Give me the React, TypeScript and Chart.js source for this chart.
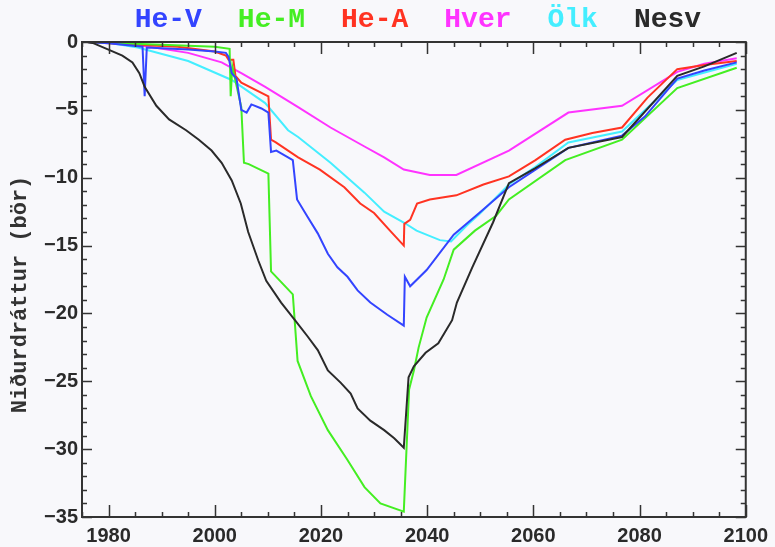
import { useEffect, useRef } from "react";
import { Chart, registerables } from "chart.js";

Chart.register(...registerables);

const seriesLabels = ["He-V", "He-M", "He-A", "Hver", "Ölk", "Nesv"];
const seriesColors = ["#3344ff", "#44ee22", "#ff3322", "#ff33ff", "#44eeff", "#2a2a2a"];

const heVYears = [1976, 1980, 1986.4, 1986.8, 1987.2, 1995, 2000, 2002.1, 2002.6, 2003.2, 2004.1, 2005.0, 2006.0, 2006.9, 2008.8, 2010.1, 2010.6, 2011.6, 2012.5, 2014.7, 2015.5, 2017.5, 2019.4, 2021.3, 2023.1, 2025.0, 2026.9, 2029.3, 2032.5, 2035.6, 2035.8, 2036.8, 2039.9, 2045.0, 2049.8, 2055.4, 2060.4, 2066.6, 2071.1, 2076.7, 2081.0, 2087.1, 2092.2, 2098.3];
const heVValues = [0, -0.1, -0.35, -4.0, -0.4, -0.55, -0.7, -0.8, -1.1, -2.3, -2.7, -5.0, -5.2, -4.6, -4.9, -5.2, -8.1, -8.0, -8.2, -8.7, -11.6, -12.9, -14.1, -15.6, -16.6, -17.3, -18.3, -19.2, -20.1, -20.9, -17.3, -18.0, -16.8, -14.2, -12.6, -10.7, -9.4, -7.8, -7.4, -6.9, -5.5, -2.7, -2.1, -1.5];

const heMYears = [1976, 1990, 2000, 2002.8, 2003.0, 2003.3, 2005.0, 2005.5, 2006.4, 2010.1, 2010.6, 2014.7, 2015.6, 2018.1, 2021.3, 2025.0, 2028.2, 2031.2, 2035.6, 2036.6, 2037.5, 2038.4, 2039.9, 2043.1, 2045.0, 2049.0, 2053.0, 2055.4, 2066.0, 2076.7, 2087.1, 2098.3];
const heMValues = [0, -0.2, -0.35, -0.5, -4.0, -1.8, -4.8, -8.9, -9.0, -9.7, -16.9, -18.6, -23.5, -26.1, -28.6, -30.8, -32.8, -34.0, -34.6, -25.6, -24.2, -22.5, -20.3, -17.5, -15.3, -13.9, -12.8, -11.6, -8.7, -7.2, -3.4, -1.9];

const heAYears = [1976, 1985, 1993, 2000, 2002.1, 2002.6, 2003.5, 2003.9, 2005.0, 2010.1, 2010.6, 2011.5, 2015.7, 2019.8, 2024.4, 2027.4, 2030.0, 2033.0, 2035.6, 2035.7, 2036.8, 2038.1, 2040.5, 2045.5, 2050.6, 2055.4, 2060.4, 2066.0, 2071.1, 2076.7, 2081.5, 2087.1, 2092.2, 2098.3];
const heAValues = [0, -0.2, -0.35, -0.7, -1.0, -1.3, -1.3, -2.5, -3.0, -4.0, -7.2, -7.4, -8.5, -9.4, -10.7, -11.9, -12.6, -13.9, -15.0, -13.4, -13.1, -11.9, -11.6, -11.3, -10.5, -9.9, -8.7, -7.2, -6.7, -6.3, -4.1, -2.0, -1.7, -1.4];

const hverYears = [1976, 1982, 1987.7, 1995.0, 2001.3, 2005.0, 2009.5, 2015.7, 2021.8, 2028.2, 2031.9, 2035.6, 2040.5, 2045.5, 2055.4, 2066.6, 2076.7, 2087.1, 2092.2, 2098.3];
const hverValues = [0, -0.1, -0.35, -0.8, -1.5, -2.3, -3.3, -4.8, -6.3, -7.7, -8.5, -9.4, -9.8, -9.8, -8.0, -5.2, -4.7, -2.2, -1.6, -1.2];

const olkYears = [1976, 1980, 1985.5, 1995, 2003.2, 2009.5, 2013.8, 2015.7, 2021.8, 2028.2, 2031.9, 2035.6, 2038.0, 2042.4, 2044.5, 2047.5, 2049.8, 2055.4, 2060.4, 2066.6, 2076.7, 2087.1, 2098.3];
const olkValues = [0, -0.05, -0.4, -1.4, -2.8, -4.5, -6.5, -7.0, -8.9, -11.1, -12.5, -13.3, -13.9, -14.6, -14.7, -13.5, -12.7, -10.5, -9.2, -7.4, -6.6, -2.8, -1.6];

const nesvYears = [1976, 1977.0, 1980.2, 1982.6, 1984.5, 1985.8, 1986.8, 1989.0, 1991.4, 1994.6, 1997.0, 1999.4, 2001.3, 2003.2, 2004.9, 2006.3, 2008.2, 2009.7, 2012.5, 2015.1, 2017.5, 2019.4, 2021.3, 2023.7, 2025.6, 2026.9, 2029.3, 2031.9, 2033.8, 2035.6, 2036.5, 2037.5, 2039.7, 2042.1, 2044.7, 2045.6, 2048.5, 2052.4, 2055.4, 2060.4, 2066.6, 2076.7, 2087.1, 2092.2, 2098.3];
const nesvValues = [0, -0.07, -0.6, -1.0, -1.5, -2.3, -3.3, -4.7, -5.7, -6.5, -7.2, -8.0, -8.9, -10.2, -11.9, -14.0, -16.1, -17.6, -19.2, -20.5, -21.7, -22.7, -24.2, -25.1, -25.9, -27.0, -27.9, -28.6, -29.2, -29.9, -24.7, -23.9, -22.9, -22.2, -20.5, -19.2, -16.6, -13.3, -10.4, -9.3, -7.8, -7.0, -2.5, -1.8, -0.8];

const seriesYears = [heVYears, heMYears, heAYears, hverYears, olkYears, nesvYears];
const seriesValues = [heVValues, heMValues, heAValues, hverValues, olkValues, nesvValues];

const xTickValues = [1980, 2000, 2020, 2040, 2060, 2080, 2100];
const yTickValues = [0, -5, -10, -15, -20, -25, -30, -35];
const yTitle = "Niðurdráttur (bör)";

const monoFamily = "'Liberation Mono', 'Courier New', Courier, monospace";
const tickFamily = "'Liberation Sans', Arial, sans-serif";

const tickFont = {
  family: tickFamily,
  size: 20,
  weight: "bold" as const,
};

const bgPlugin = {
  id: "bg",
  beforeDraw(chart: any) {
    const ctx = chart.ctx;
    ctx.save();
    ctx.fillStyle = "#f8f8fb";
    ctx.fillRect(0, 0, chart.width, chart.height);
    ctx.restore();
  },
};

const framePlugin = {
  id: "frame",
  afterDatasetsDraw(chart: any) {
    const { ctx, chartArea } = chart;
    const { left, right, top, bottom } = chartArea;
    const xs = chart.scales.x;
    const ys = chart.scales.y;
    ctx.save();
    ctx.strokeStyle = "#333";
    ctx.lineWidth = 1.5;
    ctx.beginPath();
    for (let yr = 1975; yr <= 2100; yr += 5) {
      const px = Math.round(xs.getPixelForValue(yr)) + 0.5;
      const len = yr % 20 === 0 ? 12 : 5;
      ctx.moveTo(px, bottom);
      ctx.lineTo(px, bottom - len);
      ctx.moveTo(px, top);
      ctx.lineTo(px, top + len);
    }
    for (let v = 0; v >= -35; v -= 1) {
      const py = Math.round(ys.getPixelForValue(v)) + 0.5;
      const len = v % 5 === 0 ? 10 : 5;
      ctx.moveTo(left, py);
      ctx.lineTo(left + len, py);
      ctx.moveTo(right, py);
      ctx.lineTo(right - len, py);
    }
    ctx.stroke();
    ctx.lineWidth = 2;
    ctx.strokeRect(left, top, right - left, bottom - top);
    ctx.restore();
  },
};

const textPlugin = {
  id: "texts",
  afterDraw(chart: any) {
    const { ctx, chartArea } = chart;
    const sets = chart.data.datasets;
    ctx.save();
    // legend: coloured series names above the plot
    ctx.font = "bold 28px " + monoFamily;
    ctx.textBaseline = "middle";
    ctx.textAlign = "left";
    const gap = 36;
    const widths = sets.map((d: any) => ctx.measureText(d.label).width);
    const total = widths.reduce((a: number, b: number) => a + b, 0) + gap * (sets.length - 1);
    let x = (chartArea.left + chartArea.right) / 2 + 4 - total / 2;
    sets.forEach((d: any, i: number) => {
      ctx.fillStyle = d.borderColor;
      ctx.fillText(d.label, x, 20);
      x += widths[i] + gap;
    });
    // y-axis title
    ctx.translate(20, (chartArea.top + chartArea.bottom) / 2 + 15);
    ctx.rotate(-Math.PI / 2);
    ctx.font = "bold 22px " + monoFamily;
    ctx.textAlign = "center";
    ctx.textBaseline = "middle";
    ctx.fillStyle = "#333";
    ctx.fillText(yTitle, 0, 0);
    ctx.restore();
  },
};

const fmtTick = (v: any) => (Number(v) < 0 ? "\u2212" + Math.abs(Number(v)) : String(v));

export default function App() {
  const ref = useRef<HTMLCanvasElement | null>(null);

  useEffect(() => {
    if (!ref.current) return;
    const datasets = seriesLabels.map((label, i) => ({
      label,
      data: seriesYears[i].map((yr, j) => ({ x: yr, y: seriesValues[i][j] })),
      borderColor: seriesColors[i],
      backgroundColor: seriesColors[i],
      borderWidth: 2,
      pointRadius: 0,
      tension: 0,
      fill: false,
      clip: 4,
      order: i === 5 ? 0 : 1,
    }));
    const chart = new Chart(ref.current, {
      type: "line",
      data: { datasets },
      plugins: [bgPlugin, framePlugin, textPlugin],
      options: {
        responsive: false,
        animation: false,
        layout: { padding: { left: 0, right: 23, top: 42, bottom: 0 } },
        plugins: {
          legend: { display: false },
          tooltip: { enabled: false },
        },
        scales: {
          x: {
            type: "linear",
            min: 1975,
            max: 2100,
            grid: { display: false, drawTicks: false },
            border: { display: false },
            afterBuildTicks: (scale: any) => {
              scale.ticks = xTickValues.map((v) => ({ value: v }));
            },
            afterFit: (scale: any) => {
              scale.height = 30;
            },
            ticks: {
              padding: 7,
              color: "#2a2a2a",
              font: tickFont,
              maxRotation: 0,
              autoSkip: false,
              callback: fmtTick,
            },
          },
          y: {
            type: "linear",
            min: -35,
            max: 0,
            grid: { display: false, drawTicks: false },
            border: { display: false },
            afterBuildTicks: (scale: any) => {
              scale.ticks = yTickValues.map((v) => ({ value: v }));
            },
            afterFit: (scale: any) => {
              scale.width = 82;
            },
            title: { display: false, text: yTitle },
            ticks: {
              padding: 4,
              color: "#2a2a2a",
              font: tickFont,
              autoSkip: false,
              callback: fmtTick,
            },
          },
        },
      },
    });
    let alive = true;
    const redraw = () => {
      if (alive) chart.update();
    };
    if ((document as any).fonts) {
      (document as any).fonts.ready.then(redraw);
    }
    const t1 = setTimeout(redraw, 150);
    return () => {
      alive = false;
      clearTimeout(t1);
      chart.destroy();
    };
  }, []);

  return (
    <div style={{ position: "fixed", left: 0, top: 0, width: 775, height: 547, background: "#f8f8fb" }}>
      <canvas ref={ref} width={775} height={547} style={{ position: "absolute", left: 0, top: 0, display: "block", width: 775, height: 547 }} />
    </div>
  );
}
